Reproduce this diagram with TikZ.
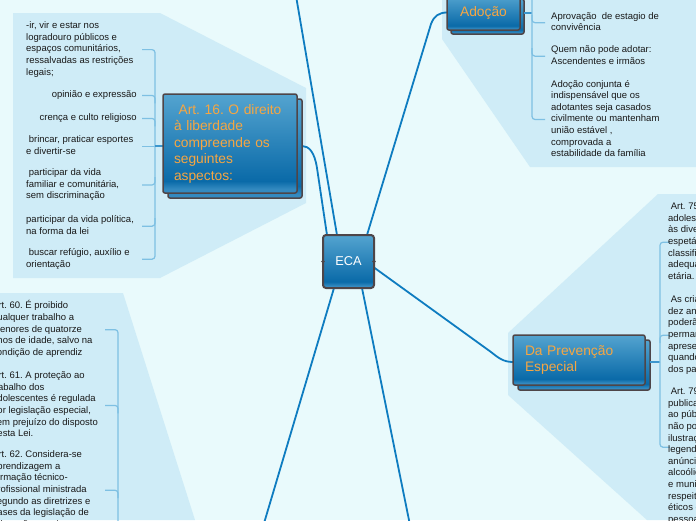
\documentclass[tikz,border=0pt]{standalone}
\usepackage{fontspec}
\setmainfont{Liberation Sans}
\usetikzlibrary{calc}
\definecolor{bgc}{RGB}{233,250,252}
\definecolor{panelc}{RGB}{207,236,247}
\definecolor{linec}{RGB}{14,124,192}
\definecolor{brc}{RGB}{126,192,227}
\definecolor{brlinkc}{RGB}{60,150,205}
\definecolor{bordc}{RGB}{78,69,72}
\definecolor{orangec}{RGB}{246,166,66}
\definecolor{ntop}{RGB}{84,164,208}
\definecolor{nmid}{RGB}{10,106,168}
\definecolor{nbot}{RGB}{52,138,192}
\definecolor{leafc}{RGB}{25,25,25}
\pgfdeclareverticalshading{nodeshade}{100bp}{color(0bp)=(nbot); color(25bp)=(nbot); color(27bp)=(nbot); color(31bp)=(nmid); color(75bp)=(ntop); color(100bp)=(ntop)}
\pgfdeclarelayer{back}
\pgfdeclarelayer{mid}
\pgfsetlayers{back,mid,main}
\tikzset{
  topic/.style={draw=bordc, line width=1.5pt, rounded corners=2pt, shade, shading=nodeshade, text=orangec, inner sep=0pt, outer sep=0pt, font=\fontsize{13.8}{16.5}\selectfont},
  shadowbox/.style={draw=bordc, line width=1.5pt, rounded corners=2pt, shade, shading=nodeshade},
  leaf/.style={inner sep=0pt, align=left, text=leafc, font=\fontsize{9.5}{11.6}\selectfont},
  conn/.style={draw=linec, line width=1.8pt},
  br/.style={draw=brc, line width=1.2pt, rounded corners=3pt},
  brlink/.style={draw=brlinkc, line width=1.5pt},
}
\begin{document}
\frenchspacing
\begin{tikzpicture}[x=1pt,y=-1pt]
\useasboundingbox (0,0) rectangle (696,520);
\clip (0,0) rectangle (696,520);
\begin{pgfonlayer}{back}
  \fill[bgc] (0,0) rectangle (696,520);
  \fill[panelc] (13,13) -- (160,13) -- (306,88) -- (306,203) -- (160,278) -- (13,278) -- cycle;
  \fill[panelc] (442,0) -- (696,0) -- (696,167) -- (530,167) -- (442,39) -- cycle;
  \fill[panelc] (658,194) -- (696,194) -- (696,520) -- (647,520) -- (508,395) -- (508,333) -- cycle;
  \fill[panelc] (0,293) -- (123,293) -- (195,520) -- (0,520) -- cycle;
\end{pgfonlayer}

% topics
\node[topic, minimum width=51pt, minimum height=53pt, line width=2pt, rounded corners=3pt, text=white, font=\fontsize{12.8}{14}\selectfont] (eca) at (348.5,261.5) {ECA};
\node[topic, minimum width=134pt, minimum height=99pt, text width=112pt, inner xsep=11pt, align=left] (art16) at (230,143.5) {\ Art. 16. O direito\\à liberdade\\compreende os\\seguintes\\aspectos:};
\node[topic, minimum width=73pt, minimum height=35pt] (adocao) at (483.5,12.5) {Adoção};
\node[topic, minimum width=132pt, minimum height=50pt, text width=108pt, inner xsep=12pt, align=left] (prev) at (579,360) {Da Prevenção\\Especial};

% leaves of Art. 16
\node[leaf, anchor=north west] (a1) at (26,20.4) {\strut-ir, vir e estar nos\\logradouro públicos e\\espaços comunitários,\\ressalvadas as restrições\\legais;\strut};
\node[leaf, anchor=north east] (a2) at (137,89.4) {\strut opinião e expressão\strut};
\node[leaf, anchor=north east] (a3) at (137,112.4) {\strut crença e culto religioso\strut};
\node[leaf, anchor=north west] (a4) at (26,134.4) {\strut\ brincar, praticar esportes\\e divertir-se\strut};
\node[leaf, anchor=north west] (a5) at (26,167.4) {\strut\ participar da vida\\familiar e comunitária,\\sem discriminação\strut};
\node[leaf, anchor=north west] (a6) at (26,214.4) {\strut participar da vida política,\\na forma da lei\strut};
\node[leaf, anchor=north west] (a7) at (26,247.4) {\strut\ buscar refúgio, auxílio e\\orientação\strut};

% leaves of Adoção
\node[leaf, anchor=north west] (d1) at (551,10.9) {\strut Aprovação\ \ de estagio de\\convivência\strut};
\node[leaf, anchor=north west] (d2) at (551,44.4) {\strut Quem não pode adotar:\\Ascendentes e irmãos\strut};
\node[leaf, anchor=north west] (d3) at (551,78.7) {\strut Adoção conjunta é\\indispensável que os\\adotantes seja casados\\civilmente ou mantenham\\união estável ,\\comprovada a\\estabilidade da família\strut};

% leaves of Da Prevenção Especial
\node[leaf, anchor=north west] (p1) at (668,201.4) {\strut\ Art. 75. Toda criança ou\\adolescente terá acesso\\às diversões e\\espetáculos públicos\\classificados como\\adequados à sua faixa\\etária.\strut};
\node[leaf, anchor=north west] (p2) at (668,294.4) {\strut\ As crianças menores de\\dez anos somente\\poderão ingressar e\\permanecer nos locais de\\apresentação ou exibição\\quando acompanhadas\\dos pais ou responsável.\strut};
\node[leaf, anchor=north west] (p3) at (668,386.4) {\strut\ Art. 79. As revistas e\\publicações destinadas\\ao público infanto-juvenil\\não poderão conter\\ilustrações, fotografias,\\legendas, crônicas ou\\anúncios de bebidas\\alcoólicas, tabaco, armas\\e munições, e deverão\\respeitar os valores\\éticos e sociais da\\pessoa e da família.\strut};

% leaves bottom left
\node[leaf, anchor=north west] (b1) at (-8,300.4) {\strut Art. 60. É proibido\\qualquer trabalho a\\menores de quatorze\\anos de idade, salvo na\\condição de aprendiz\strut};
\node[leaf, anchor=north west] (b2) at (-8,370.4) {\strut Art. 61. A proteção ao\\trabalho dos\\adolescentes é regulada\\por legislação especial,\\sem prejuízo do disposto\\nesta Lei.\strut};
\node[leaf, anchor=north west] (b3) at (-8,449.4) {\strut Art. 62. Considera-se\\aprendizagem a\\formação técnico-\\profissional ministrada\\segundo as diretrizes e\\bases da legislação de\\educação em vigor.\strut};

\coordinate (topend) at (295,-10);
\coordinate (botl) at (262,530);
\coordinate (botr) at (411,530);
\coordinate (ja) at ($(art16.west)+(-8,2.5)$);
\coordinate (jd) at ($(adocao.east)+(12,0.5)$);
\coordinate (jp) at ($(prev.east)+(15,2)$);
\coordinate (jb) at (118,540);

\begin{pgfonlayer}{mid}
  % main connectors
  \draw[conn] ($(eca.north west)+(14,0)$) -- (topend);
  \draw[conn] ($(eca.north west)+(4,0)$) -- (317,168) .. controls (314.5,152) and (309,146) .. ($(art16.east)+(5,2.5)$);
  \draw[conn] ($(eca.north west)+(44,0)$) -- (431,24) .. controls (434,16) and (439,12.5) .. (adocao.west);
  \draw[conn] ($(eca.east)+(0,6)$) -- (491,352) .. controls (498,357.5) and (503,362) .. ($(prev.west)+(0,2)$);
  \draw[conn] ($(eca.south west)+(11,0)$) -- (botl);
  \draw[conn] ($(eca.south west)+(39,0)$) -- (botr);
  % shadows
  \path[shadowbox] ($(art16.north west)+(5,5)$) rectangle ($(art16.south east)+(5,5)$);
  \path[shadowbox] ($(adocao.north west)+(4,4)$) rectangle ($(adocao.south east)+(4,4)$);
  \path[shadowbox] ($(prev.north west)+(5,5)$) rectangle ($(prev.south east)+(5,5)$);
  % Art. 16 bracket
  \draw[br] ($(ja |- a1)+(-13,0)$) -- (ja |- a1) -- (ja);
  \draw[br] ($(ja |- a7)+(-13,0)$) -- (ja |- a7) -- (ja);
  \draw[br] ($(ja |- a2)+(-13,0)$) -- (ja |- a2) -- ($(ja |- a2)+(0,8)$);
  \draw[br] ($(ja |- a3)+(-13,0)$) -- (ja |- a3) -- ($(ja |- a3)+(0,8)$);
  \draw[br] ($(ja |- a5)+(-13,0)$) -- (ja |- a5) -- ($(ja |- a5)+(0,-8)$);
  \draw[br] ($(ja |- a6)+(-13,0)$) -- (ja |- a6) -- ($(ja |- a6)+(0,-8)$);
  \draw[br] ($(ja |- a4)+(-13,0)$) -- (ja |- a4);
  \draw[brlink] (ja) -- ($(art16.west)+(0,2.5)$);
  % Adoção bracket
  \draw[brlink] ($(adocao.east)+(4,0.5)$) -- (jd);
  \draw[br] ($(jd)+(0,-25)$) -- (jd |- d3) -- ($(jd |- d3)+(13,0)$);
  \draw[br] ($(jd |- d1)+(0,-8)$) -- (jd |- d1) -- ($(jd |- d1)+(13,0)$);
  \draw[br] ($(jd |- d2)+(0,-8)$) -- (jd |- d2) -- ($(jd |- d2)+(13,0)$);
  % Prevenção bracket
  \draw[brlink] ($(prev.east)+(5,2)$) -- (jp);
  \draw[br] ($(jp |- p1)+(10,0)$) -- (jp |- p1) -- (jp);
  \draw[br] ($(jp |- p2)+(10,0)$) -- (jp |- p2) -- ($(jp |- p2)+(0,8)$);
  \draw[br] (jp) -- ($(jp |- p3)+(0,-9)$) -- ($(jp |- p3)+(10,-9)$);
  % bottom-left bracket
  \draw[br] ($(jb |- b1)+(-13,0)$) -- (jb |- b1) -- (jb);
  \draw[br] ($(jb |- b2)+(-13,0)$) -- (jb |- b2) -- ($(jb |- b2)+(0,8)$);
  \draw[br] ($(jb |- b3)+(-13,0)$) -- (jb |- b3) -- ($(jb |- b3)+(0,8)$);
\end{pgfonlayer}

\fill[bordc] (eca.west) circle (1.8pt);
\fill[bordc] (eca.east) circle (1.8pt);
\end{tikzpicture}
\end{document}
